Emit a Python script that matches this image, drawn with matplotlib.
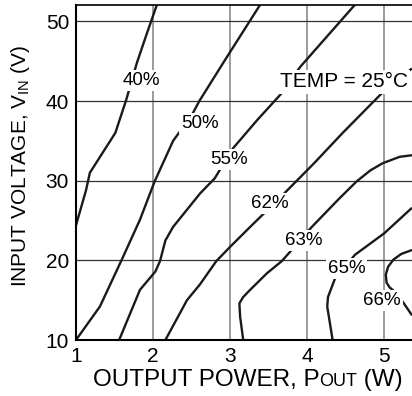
import matplotlib
matplotlib.use("Agg")
import matplotlib.pyplot as plt
from matplotlib.offsetbox import TextArea, HPacker, AnchoredOffsetbox

plt.rcParams['font.family'] = ['Liberation Sans', 'DejaVu Sans']
plt.rcParams['mathtext.default'] = 'regular'

# efficiency contours: output power (W) vs input voltage (V)
p_40 = [1.0, 1.13, 1.18, 1.51, 1.65, 1.79, 1.92, 2.05]
v_40 = [24.4, 28.8, 31.0, 36.0, 40.1, 44.8, 48.5, 52.1]

p_50 = [1.0, 1.31, 1.59, 1.83, 2.02, 2.26, 2.35, 2.49, 2.60, 2.93, 3.39]
v_50 = [10.0, 14.2, 20.0, 25.1, 29.9, 35.0, 36.2, 38.0, 40.0, 45.1, 52.1]

p_55 = [1.56, 1.83, 2.03, 2.09, 2.16, 2.26, 2.61, 2.80, 3.04, 3.35, 3.67, 3.91, 4.62]
v_55 = [10.0, 16.3, 18.6, 19.9, 22.5, 24.2, 28.4, 30.3, 34.1, 37.6, 41.0, 44.3, 52.1]

p_62 = [2.16, 2.44, 2.61, 2.82, 3.0, 3.26, 3.62, 4.09, 4.46, 4.97, 5.36]
v_62 = [10.0, 15.0, 17.0, 19.9, 21.7, 24.2, 27.6, 32.2, 36.0, 41.0, 44.1]

p_63 = [3.17, 3.13, 3.12, 3.17, 3.26, 3.48, 3.67, 3.78, 4.06, 4.42, 4.64, 4.82, 4.98, 5.20, 5.36]
v_63 = [10.0, 12.9, 14.6, 15.4, 16.3, 18.4, 19.9, 21.1, 24.2, 27.8, 29.9, 31.3, 32.2, 33.0, 33.2]

p_65 = [4.33, 4.26, 4.27, 4.36, 4.62, 5.0, 5.36]
v_65 = [10.0, 14.2, 15.4, 17.7, 20.7, 23.4, 26.6]

p_66 = [5.36, 5.22, 5.12, 5.05, 5.02, 5.03, 5.07, 5.12, 5.24, 5.36]
v_66 = [21.3, 20.8, 20.1, 19.2, 18.2, 17.2, 16.6, 16.2, 14.8, 13.1]

curves = [(p_40, v_40), (p_50, v_50), (p_55, v_55), (p_62, v_62),
          (p_63, v_63), (p_65, v_65), (p_66, v_66)]

# contour labels and where they sit
label_text = ["40%", "50%", "55%", "62%", "63%", "65%", "66%"]
label_p = [1.85, 2.61, 2.98, 3.52, 3.95, 4.51, 4.97]
label_v = [42.6, 37.2, 32.7, 27.1, 22.5, 19.0, 15.0]

x_ticks = [1, 2, 3, 4, 5]
y_ticks = [10, 20, 30, 40, 50]

fig = plt.figure(figsize=(4.12, 3.96), dpi=100)
ax = fig.add_axes([76 / 412, 1 - 340 / 396, 1 - 76 / 412, (340 - 4.7) / 396])

for x in x_ticks[1:]:
    ax.axvline(x, color="#8a8a8a", lw=1.2, zorder=1)
for y in y_ticks[1:]:
    ax.axhline(y, color="#333333", lw=0.9, zorder=1)

for p, v in curves:
    ax.plot(p, v, color="#1a1a1a", lw=1.7, zorder=2, solid_capstyle="butt")

for t, x, y in zip(label_text, label_p, label_v):
    ax.text(x, y, t, fontsize=13.5, ha="center", va="center", zorder=3,
            bbox=dict(fc="white", ec="none", pad=1.5))

ax.text(4.48, 42.4, "TEMP = 25°C", fontsize=15, ha="center", va="center", zorder=3,
        bbox=dict(fc="white", ec="none", pad=1.5))

ax.set_xlim(1, 5.36)
ax.set_ylim(10, 52.1)
ax.set_xticks(x_ticks)
ax.set_yticks(y_ticks)
ax.tick_params(length=0, labelsize=15, pad=5)
ax.spines["right"].set_visible(False)
ax.spines["left"].set_linewidth(1.5)
ax.spines["bottom"].set_linewidth(1.5)
ax.spines["top"].set_linewidth(1.2)

fig.text(21 / 412, 1 - 166 / 396, "INPUT VOLTAGE, V$_{IN}$ (V)", rotation=90,
         ha="center", va="center", fontsize=15)

parts = [TextArea("OUTPUT POWER, P", textprops=dict(fontsize=17.5)),
         TextArea("OUT", textprops=dict(fontsize=13)),
         TextArea(" (W)", textprops=dict(fontsize=17.5))]
box = HPacker(children=parts, align="baseline", pad=0, sep=0)
xlab = AnchoredOffsetbox(loc="center", child=box, pad=0, borderpad=0, frameon=False,
                         bbox_to_anchor=(248 / 412, 1 - 380 / 396),
                         bbox_transform=fig.transFigure)
fig.add_artist(xlab)

fig.savefig("out.png", dpi=100)
